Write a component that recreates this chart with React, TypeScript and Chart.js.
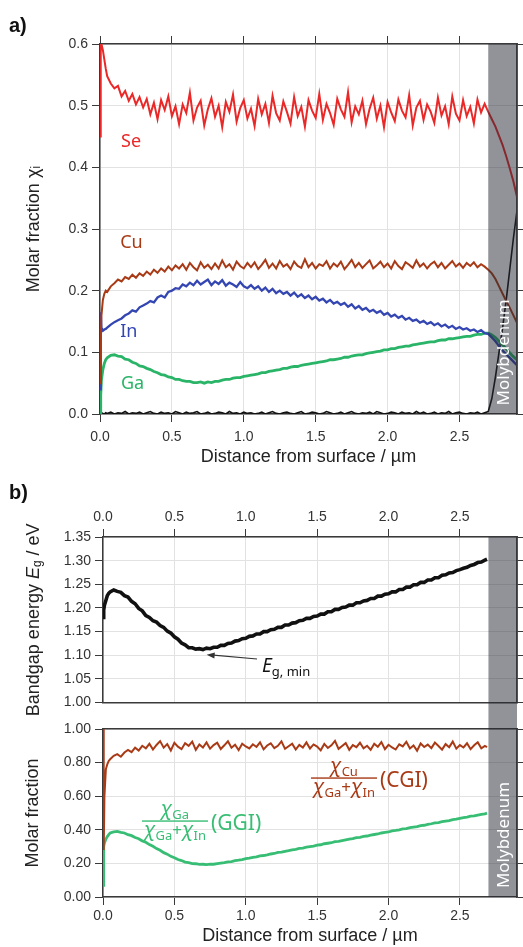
import React, { useEffect, useRef } from 'react';
import { Chart, registerables } from 'chart.js';

Chart.register(...registerables);

// ---------- Panel a) depth grid (µm) ----------
const DEPTH_A = [
  0, 0.005, 0.01, 0.02, 0.03, 0.04,
  0.05, 0.075, 0.1, 0.125, 0.15, 0.175, 0.2, 0.225, 0.25, 0.275,
  0.3, 0.325, 0.35, 0.375, 0.4, 0.425, 0.45, 0.475, 0.5, 0.525,
  0.55, 0.575, 0.6, 0.625, 0.65, 0.675, 0.7, 0.725, 0.75, 0.775,
  0.8, 0.825, 0.85, 0.875, 0.9, 0.925, 0.95, 0.975, 1.0, 1.025,
  1.05, 1.075, 1.1, 1.125, 1.15, 1.175, 1.2, 1.225, 1.25, 1.275,
  1.3, 1.325, 1.35, 1.375, 1.4, 1.425, 1.45, 1.475, 1.5, 1.525,
  1.55, 1.575, 1.6, 1.625, 1.65, 1.675, 1.7, 1.725, 1.75, 1.775,
  1.8, 1.825, 1.85, 1.875, 1.9, 1.925, 1.95, 1.975, 2.0, 2.025,
  2.05, 2.075, 2.1, 2.125, 2.15, 2.175, 2.2, 2.225, 2.25, 2.275,
  2.3, 2.325, 2.35, 2.375, 2.4, 2.425, 2.45, 2.475, 2.5, 2.525,
  2.55, 2.575, 2.6, 2.625, 2.65, 2.675, 2.7, 2.725, 2.75, 2.775,
  2.8, 2.825, 2.85, 2.875, 2.9,
];

const SE = [
  0.45, 0.61, 0.6, 0.59, 0.575, 0.56,
  0.548, 0.536, 0.528, 0.532, 0.515, 0.524, 0.508, 0.519, 0.502, 0.514,
  0.497, 0.511, 0.486, 0.505, 0.478, 0.509, 0.493, 0.515, 0.483, 0.499,
  0.47, 0.502, 0.488, 0.521, 0.476, 0.497, 0.508, 0.468, 0.494, 0.512,
  0.482, 0.5, 0.465, 0.506, 0.49, 0.518, 0.474, 0.496, 0.509, 0.479,
  0.495, 0.467, 0.511, 0.486, 0.503, 0.472, 0.516, 0.488, 0.476, 0.507,
  0.49, 0.471, 0.514, 0.483, 0.498, 0.466, 0.509, 0.492, 0.48, 0.519,
  0.477, 0.503, 0.488, 0.469, 0.511, 0.494, 0.482, 0.522, 0.473, 0.499,
  0.486, 0.508, 0.47, 0.495, 0.513, 0.479, 0.5, 0.465, 0.506, 0.489,
  0.475, 0.51, 0.492, 0.481, 0.517, 0.468, 0.497, 0.508, 0.477, 0.502,
  0.49, 0.472, 0.513, 0.484, 0.499, 0.47, 0.515, 0.487, 0.476, 0.509,
  0.483, 0.498, 0.471, 0.51, 0.489, 0.503, 0.49, 0.478, 0.466, 0.451,
  0.436, 0.418, 0.398, 0.377, 0.352,
];

const CU = [
  0.05, 0.12, 0.16, 0.185, 0.195, 0.2,
  0.198, 0.207, 0.212, 0.218, 0.215, 0.222, 0.219, 0.226, 0.221, 0.228,
  0.224, 0.231, 0.226, 0.234, 0.229, 0.236, 0.231, 0.239, 0.233, 0.241,
  0.236, 0.243, 0.234, 0.245, 0.238, 0.233, 0.246, 0.237, 0.242, 0.235,
  0.244, 0.236, 0.249, 0.238, 0.243, 0.234, 0.247, 0.24, 0.236, 0.245,
  0.238, 0.246, 0.235, 0.242, 0.25, 0.237, 0.244, 0.236, 0.248, 0.239,
  0.243, 0.235, 0.247, 0.24, 0.237, 0.251, 0.238, 0.245, 0.236, 0.243,
  0.24, 0.248, 0.236, 0.244, 0.239, 0.247, 0.235, 0.242, 0.25, 0.238,
  0.245, 0.237, 0.243, 0.249, 0.236, 0.241, 0.247, 0.238, 0.244, 0.236,
  0.248, 0.24, 0.235, 0.246, 0.242, 0.237, 0.249, 0.239, 0.244, 0.236,
  0.243, 0.247, 0.238, 0.245, 0.236, 0.242, 0.248, 0.239, 0.244, 0.237,
  0.245, 0.24, 0.246, 0.238, 0.243, 0.239, 0.234, 0.228, 0.219, 0.207,
  0.195, 0.183, 0.172, 0.16, 0.148,
];

const IN = [
  0.04, 0.165, 0.14, 0.135, 0.137, 0.138,
  0.14, 0.145, 0.149, 0.152, 0.155, 0.16, 0.163, 0.168, 0.166, 0.173,
  0.176, 0.179, 0.183, 0.181, 0.189, 0.192, 0.189, 0.198, 0.2, 0.204,
  0.203, 0.21, 0.207, 0.213, 0.209, 0.216, 0.21, 0.214, 0.218, 0.209,
  0.215, 0.211, 0.217, 0.208, 0.213, 0.21, 0.206, 0.214, 0.207, 0.204,
  0.209, 0.203, 0.207, 0.2, 0.205, 0.198, 0.203, 0.196, 0.2, 0.195,
  0.198, 0.192, 0.197, 0.19, 0.194, 0.188, 0.192, 0.186, 0.19, 0.184,
  0.187, 0.181, 0.185, 0.179, 0.182, 0.177, 0.18, 0.174, 0.178, 0.171,
  0.175, 0.169, 0.172, 0.166, 0.169, 0.164, 0.167, 0.161, 0.164, 0.158,
  0.161, 0.156, 0.159, 0.153, 0.156, 0.151, 0.153, 0.148, 0.151, 0.146,
  0.149, 0.144, 0.147, 0.142, 0.145, 0.14, 0.143, 0.138, 0.141, 0.137,
  0.139, 0.135, 0.137, 0.133, 0.136, 0.131, 0.13, 0.124, 0.118, 0.11,
  0.103, 0.097, 0.091, 0.085, 0.079,
];

const GA = [
  0, 0.03, 0.055, 0.072, 0.082, 0.088,
  0.091, 0.095, 0.096, 0.094, 0.093, 0.089, 0.088, 0.084, 0.082, 0.078,
  0.077, 0.074, 0.072, 0.069, 0.067, 0.064, 0.063, 0.06, 0.059, 0.056,
  0.056, 0.054, 0.053, 0.053, 0.051, 0.051, 0.052, 0.05, 0.052, 0.051,
  0.053, 0.053, 0.055, 0.056, 0.056, 0.058, 0.059, 0.059, 0.061, 0.062,
  0.063, 0.064, 0.065, 0.067, 0.067, 0.069, 0.07, 0.071, 0.072, 0.074,
  0.074, 0.076, 0.077, 0.077, 0.079, 0.08, 0.081, 0.082, 0.083, 0.084,
  0.085, 0.086, 0.088, 0.088, 0.089, 0.09, 0.092, 0.092, 0.094, 0.095,
  0.096, 0.096, 0.098, 0.099, 0.1, 0.101, 0.102, 0.104, 0.104, 0.106,
  0.106, 0.108, 0.109, 0.11, 0.11, 0.112, 0.113, 0.114, 0.115, 0.116,
  0.117, 0.117, 0.119, 0.12, 0.12, 0.122, 0.122, 0.123, 0.124, 0.125,
  0.126, 0.126, 0.128, 0.129, 0.129, 0.131, 0.131, 0.128, 0.124, 0.118,
  0.112, 0.106, 0.099, 0.093, 0.088,
];

const MO = [
  0, 0.001, 0.002, 0.001, 0, 0.002,
  0.001, 0.003, 0, 0.002, 0.001, 0.004, 0, 0.002, 0.001, 0.003,
  0, 0.002, 0.004, 0.001, 0, 0.003, 0.001, 0.002, 0, 0.004,
  0.002, 0, 0.003, 0.001, 0.002, 0.004, 0, 0.001, 0.003, 0,
  0.001, 0.003, 0.002, 0, 0.004, 0.001, 0.002, 0, 0.003, 0.001,
  0.002, 0, 0.001, 0.003, 0, 0.002, 0.004, 0.001, 0, 0.002,
  0.003, 0.001, 0, 0.002, 0.004, 0, 0.001, 0.003, 0.002, 0,
  0.001, 0.004, 0.002, 0, 0.001, 0.003, 0, 0.002, 0.004, 0.001,
  0, 0.002, 0.001, 0.003, 0, 0.004, 0.002, 0, 0.001, 0.003,
  0.002, 0, 0.003, 0.001, 0.002, 0, 0.004, 0.001, 0.003, 0,
  0.001, 0.003, 0, 0.002, 0.001, 0.004, 0, 0.002, 0.003, 0.001,
  0, 0.002, 0.001, 0.003, 0, 0.002, 0.004, 0.025, 0.06, 0.1,
  0.14, 0.185, 0.235, 0.285, 0.33,
];

// ---------- Panel b) depth grid (µm) ----------
const DEPTH_B = [
  0, 0.005, 0.01, 0.02, 0.03, 0.04,
  0.05, 0.075, 0.1, 0.125, 0.15, 0.175, 0.2, 0.225, 0.25, 0.275,
  0.3, 0.325, 0.35, 0.375, 0.4, 0.425, 0.45, 0.475, 0.5, 0.525,
  0.55, 0.575, 0.6, 0.625, 0.65, 0.675, 0.7, 0.725, 0.75, 0.775,
  0.8, 0.825, 0.85, 0.875, 0.9, 0.925, 0.95, 0.975, 1.0, 1.025,
  1.05, 1.075, 1.1, 1.125, 1.15, 1.175, 1.2, 1.225, 1.25, 1.275,
  1.3, 1.325, 1.35, 1.375, 1.4, 1.425, 1.45, 1.475, 1.5, 1.525,
  1.55, 1.575, 1.6, 1.625, 1.65, 1.675, 1.7, 1.725, 1.75, 1.775,
  1.8, 1.825, 1.85, 1.875, 1.9, 1.925, 1.95, 1.975, 2.0, 2.025,
  2.05, 2.075, 2.1, 2.125, 2.15, 2.175, 2.2, 2.225, 2.25, 2.275,
  2.3, 2.325, 2.35, 2.375, 2.4, 2.425, 2.45, 2.475, 2.5, 2.525,
  2.55, 2.575, 2.6, 2.625, 2.65, 2.675, 2.69,
];

const EG = [
  1.18, 1.196, 1.206, 1.216, 1.226, 1.231,
  1.234, 1.238, 1.235, 1.233, 1.226, 1.223, 1.214, 1.209, 1.199, 1.194,
  1.184, 1.18, 1.173, 1.17, 1.163, 1.159, 1.151, 1.147, 1.139, 1.134,
  1.126, 1.122, 1.116, 1.116, 1.113, 1.114, 1.112, 1.115, 1.114, 1.117,
  1.117, 1.121, 1.121, 1.125, 1.126, 1.13, 1.131, 1.135, 1.136, 1.14,
  1.141, 1.145, 1.145, 1.15, 1.15, 1.154, 1.155, 1.159, 1.159, 1.164,
  1.164, 1.168, 1.169, 1.173, 1.174, 1.178, 1.178, 1.182, 1.183, 1.187,
  1.187, 1.192, 1.192, 1.197, 1.197, 1.201, 1.202, 1.206, 1.206, 1.211,
  1.211, 1.215, 1.216, 1.22, 1.22, 1.225, 1.225, 1.229, 1.23, 1.234,
  1.234, 1.239, 1.239, 1.244, 1.244, 1.249, 1.249, 1.254, 1.254, 1.259,
  1.259, 1.264, 1.264, 1.269, 1.27, 1.274, 1.275, 1.279, 1.281, 1.284,
  1.286, 1.29, 1.292, 1.296, 1.297, 1.301, 1.303,
];

const CGI = [
  1.0, 0.28, 0.6, 0.76, 0.79, 0.81,
  0.82, 0.84, 0.85, 0.835, 0.86, 0.875, 0.862, 0.889, 0.872, 0.9,
  0.885, 0.912, 0.878, 0.905, 0.928, 0.889, 0.91, 0.872, 0.918, 0.895,
  0.88, 0.915, 0.9, 0.925, 0.876, 0.908, 0.89, 0.92, 0.883, 0.904,
  0.918, 0.881, 0.903, 0.927, 0.888, 0.906, 0.874, 0.912, 0.896, 0.884,
  0.909, 0.893, 0.921, 0.879, 0.902, 0.915, 0.886, 0.9, 0.926, 0.882,
  0.897, 0.913, 0.878, 0.905, 0.889, 0.92, 0.884, 0.908, 0.895, 0.873,
  0.911, 0.887, 0.903, 0.929, 0.882, 0.899, 0.916, 0.876, 0.904, 0.892,
  0.918, 0.885, 0.9, 0.876, 0.912, 0.894, 0.922, 0.88, 0.906, 0.89,
  0.878, 0.909, 0.896, 0.924, 0.884, 0.902, 0.871, 0.914, 0.893, 0.907,
  0.886, 0.919, 0.899, 0.877, 0.91, 0.892, 0.925, 0.883, 0.904, 0.89,
  0.915, 0.88, 0.903, 0.921, 0.885, 0.899, 0.892,
];

const GGI = [
  0.07, 0.3, 0.322, 0.344, 0.36, 0.371,
  0.381, 0.387, 0.391, 0.385, 0.381, 0.371, 0.365, 0.354, 0.347, 0.334,
  0.326, 0.312, 0.302, 0.288, 0.278, 0.264, 0.255, 0.242, 0.234, 0.223,
  0.217, 0.208, 0.205, 0.199, 0.198, 0.194, 0.195, 0.193, 0.196, 0.195,
  0.199, 0.202, 0.204, 0.209, 0.211, 0.216, 0.219, 0.223, 0.228, 0.231,
  0.236, 0.239, 0.245, 0.247, 0.251, 0.256, 0.259, 0.265, 0.267, 0.272,
  0.276, 0.281, 0.283, 0.289, 0.291, 0.297, 0.3, 0.303, 0.309, 0.311,
  0.317, 0.32, 0.323, 0.329, 0.331, 0.336, 0.34, 0.344, 0.347, 0.353,
  0.355, 0.361, 0.363, 0.368, 0.372, 0.375, 0.381, 0.384, 0.387, 0.393,
  0.396, 0.4, 0.405, 0.407, 0.413, 0.416, 0.419, 0.425, 0.427, 0.432,
  0.436, 0.441, 0.443, 0.448, 0.452, 0.455, 0.461, 0.463, 0.468, 0.472,
  0.476, 0.481, 0.483, 0.488, 0.492, 0.495, 0.499,
];

// ---------- ticks / ranges ----------
const X_TICKS = [0, 0.5, 1.0, 1.5, 2.0, 2.5];
const Y_TICKS_A = [0, 0.1, 0.2, 0.3, 0.4, 0.5, 0.6];
const Y_TICKS_B = [1.0, 1.05, 1.1, 1.15, 1.2, 1.25, 1.3, 1.35];
const Y_TICKS_C = [0, 0.2, 0.4, 0.6, 0.8, 1.0];
const X_MAX = 2.9;
const MO_START = 2.7;

// ---------- styles ----------
const AX_FAMILY = '"Liberation Sans", Arial, Helvetica, sans-serif';
const LB_FAMILY = '"Noto Sans", "Open Sans", sans-serif';
const AXIS = '#3a3a3a';
const GRID = '#e2e2e2';
const BAND = 'rgba(36,39,52,0.5)';
const C_SE = 'rgb(234,40,40)';
const C_CU = 'rgb(168,58,22)';
const C_IN = 'rgb(52,70,178)';
const C_GA = 'rgb(42,180,104)';
const C_GGI = 'rgb(56,190,116)';
const TICK_FONT = { family: AX_FAMILY, size: 14 };
const TITLE_FONT = { family: AX_FAMILY, size: 18, lineHeight: 1 };

const pts = (xs: number[], ys: number[]) => {
  const n = Math.min(xs.length, ys.length);
  const out: { x: number; y: number }[] = [];
  for (let i = 0; i < n; i++) out.push({ x: xs[i], y: ys[i] });
  return out;
};

const setTicks = (vals: number[]) => (scale: any) => {
  scale.ticks = vals.map((v) => ({ value: v }));
};

const line = (data: any, color: string, width: number, xId: string, yId: string) => ({
  data,
  borderColor: color,
  backgroundColor: color,
  borderWidth: width,
  borderJoinStyle: 'miter',
  pointRadius: 0,
  tension: 0,
  fill: false,
  xAxisID: xId,
  yAxisID: yId,
});

type Part = { t: string; size: number; dy?: number; italic?: boolean; family?: string };
const fontOf = (p: Part) => `${p.italic ? 'italic ' : ''}${p.size}px ${p.family || LB_FAMILY}`;
const partsWidth = (ctx: CanvasRenderingContext2D, parts: Part[]) => {
  let w = 0;
  for (const p of parts) {
    ctx.font = fontOf(p);
    w += ctx.measureText(p.t).width;
  }
  return w;
};
const drawParts = (ctx: CanvasRenderingContext2D, parts: Part[], x: number, y: number) => {
  let cx = x;
  for (const p of parts) {
    ctx.font = fontOf(p);
    ctx.fillText(p.t, cx, y + (p.dy || 0));
    cx += ctx.measureText(p.t).width;
  }
};

const drawBand = (chart: any, xId: string, yTop: number, yBot: number) => {
  const { ctx, chartArea } = chart;
  const x0 = chart.scales[xId].getPixelForValue(MO_START);
  ctx.save();
  ctx.fillStyle = BAND;
  ctx.fillRect(x0, yTop, chartArea.right - x0, yBot - yTop);
  ctx.strokeStyle = AXIS;
  ctx.lineWidth = 1.5;
  ctx.beginPath();
  ctx.moveTo(chartArea.right, chartArea.top);
  ctx.lineTo(chartArea.right, chartArea.bottom);
  ctx.stroke();
  ctx.restore();
};

const drawMoText = (chart: any, xId: string, cy: number) => {
  const { ctx, chartArea } = chart;
  const x0 = chart.scales[xId].getPixelForValue(MO_START);
  const cx = (x0 + chartArea.right) / 2 + 1.5;
  ctx.save();
  ctx.translate(cx, cy);
  ctx.rotate(-Math.PI / 2);
  ctx.fillStyle = '#ffffff';
  ctx.font = `17px ${LB_FAMILY}`;
  ctx.textAlign = 'center';
  ctx.textBaseline = 'middle';
  ctx.fillText('Molybdenum', 0, 0);
  ctx.restore();
};

const drawFraction = (
  ctx: CanvasRenderingContext2D,
  cx: number,
  barY: number,
  num: Part[],
  den: Part[],
  color: string,
  suffix: string,
) => {
  ctx.save();
  ctx.fillStyle = color;
  ctx.textAlign = 'left';
  ctx.textBaseline = 'alphabetic';
  const wN = partsWidth(ctx, num);
  const wD = partsWidth(ctx, den);
  const w = Math.max(wN, wD) + 4;
  drawParts(ctx, num, cx - wN / 2, barY - 6);
  drawParts(ctx, den, cx - wD / 2, barY + 15);
  ctx.fillRect(cx - w / 2, barY - 0.7, w, 1.4);
  ctx.font = `21px ${LB_FAMILY}`;
  ctx.fillText(suffix, cx + w / 2 + 3, barY + 9);
  ctx.restore();
};

const decoA = {
  id: 'decoA',
  afterDatasetsDraw(chart: any) {
    const { ctx, chartArea, scales } = chart;
    drawBand(chart, 'x', chartArea.top, chartArea.bottom);
    drawMoText(chart, 'x', scales.y.getPixelForValue(0.1));
    ctx.save();
    ctx.textAlign = 'center';
    ctx.textBaseline = 'middle';
    ctx.font = `18px ${LB_FAMILY}`;
    const lab = (t: string, c: string, x: number, y: number) => {
      ctx.fillStyle = c;
      ctx.fillText(t, scales.x.getPixelForValue(x), scales.y.getPixelForValue(y));
    };
    lab('Se', C_SE, 0.216, 0.441);
    lab('Cu', C_CU, 0.219, 0.277);
    lab('In', C_IN, 0.2, 0.133);
    lab('Ga', C_GA, 0.226, 0.049);
    ctx.fillStyle = '#111';
    ctx.textAlign = 'left';
    ctx.textBaseline = 'alphabetic';
    ctx.font = `bold 20px ${AX_FAMILY}`;
    ctx.fillText('a)', 9, 32);
    ctx.restore();
  },
};

const decoB = {
  id: 'decoB',
  afterDatasetsDraw(chart: any) {
    const { ctx, chartArea, scales } = chart;
    drawBand(chart, 'xTop', chartArea.top, chart.height);
    ctx.save();
    ctx.fillStyle = '#111';
    ctx.textAlign = 'left';
    ctx.textBaseline = 'alphabetic';
    ctx.font = `bold 20px ${AX_FAMILY}`;
    ctx.fillText('b)', 9, 29);
    const title: Part[] = [
      { t: 'Bandgap energy ', size: 18, family: AX_FAMILY },
      { t: 'E', size: 18, italic: true, family: AX_FAMILY },
      { t: 'g', size: 12, dy: 4, family: AX_FAMILY },
      { t: ' / eV', size: 18, family: AX_FAMILY },
    ];
    ctx.fillStyle = '#222';
    ctx.textBaseline = 'middle';
    const tw = partsWidth(ctx, title);
    ctx.translate(34, (chartArea.top + chartArea.bottom) / 2);
    ctx.rotate(-Math.PI / 2);
    drawParts(ctx, title, -tw / 2, 0);
    ctx.restore();

    const xs = scales.xTop;
    const ys = scales.y;
    const tx = xs.getPixelForValue(1.079);
    const ty = ys.getPixelForValue(1.0922);
    const hx = xs.getPixelForValue(0.726);
    const hy = ys.getPixelForValue(1.101);
    ctx.save();
    ctx.strokeStyle = '#333';
    ctx.fillStyle = '#333';
    ctx.lineWidth = 1.2;
    ctx.beginPath();
    ctx.moveTo(tx, ty);
    ctx.lineTo(hx + 4, hy);
    ctx.stroke();
    const ang = Math.atan2(hy - ty, hx - tx);
    ctx.beginPath();
    ctx.moveTo(hx, hy);
    ctx.lineTo(hx - 8 * Math.cos(ang) + 3 * Math.sin(ang), hy - 8 * Math.sin(ang) - 3 * Math.cos(ang));
    ctx.lineTo(hx - 8 * Math.cos(ang) - 3 * Math.sin(ang), hy - 8 * Math.sin(ang) + 3 * Math.cos(ang));
    ctx.closePath();
    ctx.fill();
    ctx.fillStyle = '#111';
    ctx.textAlign = 'left';
    ctx.textBaseline = 'alphabetic';
    drawParts(
      ctx,
      [
        { t: 'E', size: 19, italic: true },
        { t: 'g, min', size: 13, dy: 4 },
      ],
      tx + 5,
      ty + 13,
    );
    ctx.restore();
  },
};

const decoC = {
  id: 'decoC',
  afterDatasetsDraw(chart: any) {
    const { ctx, scales, chartArea } = chart;
    drawBand(chart, 'x', 0, chartArea.bottom);
    drawMoText(chart, 'x', scales.y.getPixelForValue(0.369));
    const sub = (t: string): Part => ({ t, size: 13, dy: 4 });
    const chi: Part = { t: 'χ', size: 20, italic: true };
    const plus: Part = { t: '+', size: 17 };
    drawFraction(
      ctx,
      scales.x.getPixelForValue(0.504),
      scales.y.getPixelForValue(0.452),
      [chi, sub('Ga')],
      [chi, sub('Ga'), plus, chi, sub('In')],
      C_GGI,
      '(GGI)',
    );
    drawFraction(
      ctx,
      scales.x.getPixelForValue(1.688),
      scales.y.getPixelForValue(0.708),
      [chi, sub('Cu')],
      [chi, sub('Ga'), plus, chi, sub('In')],
      C_CU,
      '(CGI)',
    );
  },
};

const baseOptions = {
  responsive: false,
  maintainAspectRatio: false,
  animation: false as const,
  events: [] as any[],
  plugins: { legend: { display: false }, tooltip: { enabled: false } },
};

const fmt = (d: number) => (v: any) => Number(v).toFixed(d);

function configA(): any {
  return {
    type: 'line',
    data: {
      datasets: [
        line(pts(DEPTH_A, SE), C_SE, 2, 'x', 'y'),
        line(pts(DEPTH_A, CU), C_CU, 2, 'x', 'y'),
        line(pts(DEPTH_A, IN), C_IN, 2.3, 'x', 'y'),
        line(pts(DEPTH_A, GA), C_GA, 2.8, 'x', 'y'),
        line(pts(DEPTH_A, MO), '#111', 1.6, 'x', 'y'),
      ],
    },
    options: {
      ...baseOptions,
      layout: { padding: { top: 36, right: 0, bottom: 0, left: 0 } },
      scales: {
        x: {
          type: 'linear', position: 'bottom', min: 0, max: X_MAX,
          afterBuildTicks: setTicks(X_TICKS),
          afterFit: (s: any) => { s.height = 56; },
          ticks: { font: TICK_FONT, color: '#333', padding: 7, maxRotation: 0, autoSkip: false, callback: fmt(1) },
          grid: { color: GRID, tickColor: AXIS, tickLength: 8 },
          border: { color: AXIS, width: 1.5 },
          title: { display: true, text: 'Distance from surface / µm', font: TITLE_FONT, color: '#222', padding: { top: 0, bottom: 3.5 } },
        },
        xTop: {
          type: 'linear', position: 'top', min: 0, max: X_MAX,
          afterBuildTicks: setTicks(X_TICKS),
          afterFit: (s: any) => { s.height = 8; },
          ticks: { display: false },
          grid: { drawOnChartArea: false, tickColor: AXIS, tickLength: 8 },
          border: { color: AXIS, width: 1.5 },
        },
        y: {
          type: 'linear', position: 'left', min: 0, max: 0.6,
          afterBuildTicks: setTicks(Y_TICKS_A),
          afterFit: (s: any) => { s.width = 100; },
          ticks: { font: TICK_FONT, color: '#333', padding: 4, callback: fmt(1) },
          grid: { color: GRID, tickColor: AXIS, tickLength: 8 },
          border: { color: AXIS, width: 1.5 },
          title: { display: true, text: 'Molar fraction χᵢ', font: TITLE_FONT, color: '#222', padding: { top: 25, bottom: 0 } },
        },
        yRight: {
          type: 'linear', position: 'right', min: 0, max: 0.6,
          afterBuildTicks: setTicks(Y_TICKS_A),
          afterFit: (s: any) => { s.width = 6; },
          ticks: { display: false },
          grid: { drawOnChartArea: false, tickColor: AXIS, tickLength: 6 },
          border: { color: AXIS, width: 1.5 },
        },
      },
    },
    plugins: [decoA],
  };
}

function configB(): any {
  return {
    type: 'line',
    data: {
      datasets: [line(pts(DEPTH_B, EG), '#111', 3.6, 'xTop', 'y')],
    },
    options: {
      ...baseOptions,
      layout: { padding: 0 },
      scales: {
        xTop: {
          type: 'linear', position: 'top', min: 0, max: X_MAX,
          afterBuildTicks: setTicks(X_TICKS),
          afterFit: (s: any) => { s.height = 67; },
          ticks: { font: TICK_FONT, color: '#333', padding: 3, maxRotation: 0, autoSkip: false, callback: fmt(1) },
          grid: { color: GRID, tickColor: AXIS, tickLength: 8 },
          border: { color: AXIS, width: 1.5 },
        },
        xBot: {
          type: 'linear', position: 'bottom', min: 0, max: X_MAX,
          afterBuildTicks: setTicks(X_TICKS),
          afterFit: (s: any) => { s.height = 6; },
          ticks: { display: false },
          grid: { drawOnChartArea: false, drawTicks: false },
          border: { color: AXIS, width: 1.5 },
        },
        y: {
          type: 'linear', position: 'left', min: 1.0, max: 1.35,
          afterBuildTicks: setTicks(Y_TICKS_B),
          afterFit: (s: any) => { s.width = 103; },
          ticks: { font: TICK_FONT, color: '#333', padding: 4, callback: fmt(2) },
          grid: { color: GRID, tickColor: AXIS, tickLength: 8 },
          border: { color: AXIS, width: 1.5 },
        },
        yRight: {
          type: 'linear', position: 'right', min: 1.0, max: 1.35,
          afterBuildTicks: setTicks(Y_TICKS_B),
          afterFit: (s: any) => { s.width = 6; },
          ticks: { display: false },
          grid: { drawOnChartArea: false, tickColor: AXIS, tickLength: 6 },
          border: { color: AXIS, width: 1.5 },
        },
      },
    },
    plugins: [decoB],
  };
}

function configC(): any {
  return {
    type: 'line',
    data: {
      datasets: [
        line(pts(DEPTH_B, CGI), C_CU, 2, 'x', 'y'),
        line(pts(DEPTH_B, GGI), C_GGI, 2.8, 'x', 'y'),
      ],
    },
    options: {
      ...baseOptions,
      layout: { padding: { top: 14, right: 0, bottom: 0, left: 0 } },
      scales: {
        x: {
          type: 'linear', position: 'bottom', min: 0, max: X_MAX,
          afterBuildTicks: setTicks(X_TICKS),
          afterFit: (s: any) => { s.height = 50; },
          ticks: { font: TICK_FONT, color: '#333', padding: 3, maxRotation: 0, autoSkip: false, callback: fmt(1) },
          grid: { color: GRID, tickColor: AXIS, tickLength: 8 },
          border: { color: AXIS, width: 1.5 },
          title: { display: true, text: 'Distance from surface / µm', font: TITLE_FONT, color: '#222', padding: { top: 0, bottom: 1.5 } },
        },
        xTop: {
          type: 'linear', position: 'top', min: 0, max: X_MAX,
          afterBuildTicks: setTicks(X_TICKS),
          afterFit: (s: any) => { s.height = 0; },
          ticks: { display: false },
          grid: { drawOnChartArea: false, drawTicks: false },
          border: { color: AXIS, width: 1.5 },
        },
        y: {
          type: 'linear', position: 'left', min: 0, max: 1.0,
          afterBuildTicks: setTicks(Y_TICKS_C),
          afterFit: (s: any) => { s.width = 103; },
          ticks: { font: TICK_FONT, color: '#333', padding: 4, callback: fmt(2) },
          grid: { color: GRID, tickColor: AXIS, tickLength: 8 },
          border: { color: AXIS, width: 1.5 },
          title: { display: true, text: 'Molar fraction', font: TITLE_FONT, color: '#222', padding: { top: 24, bottom: 0 } },
        },
        yRight: {
          type: 'linear', position: 'right', min: 0, max: 1.0,
          afterBuildTicks: setTicks(Y_TICKS_C),
          afterFit: (s: any) => { s.width = 6; },
          ticks: { display: false },
          grid: { drawOnChartArea: false, tickColor: AXIS, tickLength: 6 },
          border: { color: AXIS, width: 1.5 },
        },
      },
    },
    plugins: [decoC],
  };
}

export default function App() {
  const refA = useRef<HTMLCanvasElement>(null);
  const refB = useRef<HTMLCanvasElement>(null);
  const refC = useRef<HTMLCanvasElement>(null);

  useEffect(() => {
    const a = new Chart(refA.current as HTMLCanvasElement, configA());
    const b = new Chart(refB.current as HTMLCanvasElement, configB());
    const c = new Chart(refC.current as HTMLCanvasElement, configC());
    return () => {
      a.destroy();
      b.destroy();
      c.destroy();
    };
  }, []);

  const cv = (top: number, h: number): React.CSSProperties => ({
    position: 'absolute', left: 0, top, width: 523, height: h, display: 'block',
  });

  return (
    <div style={{ position: 'absolute', left: 0, top: 0, width: 523, height: 947, background: '#fff', overflow: 'hidden' }}>
      <canvas ref={refA} width={523} height={470} style={cv(0, 470)} />
      <canvas ref={refB} width={523} height={245} style={cv(470, 245)} />
      <canvas ref={refC} width={523} height={232} style={cv(715, 232)} />
    </div>
  );
}
